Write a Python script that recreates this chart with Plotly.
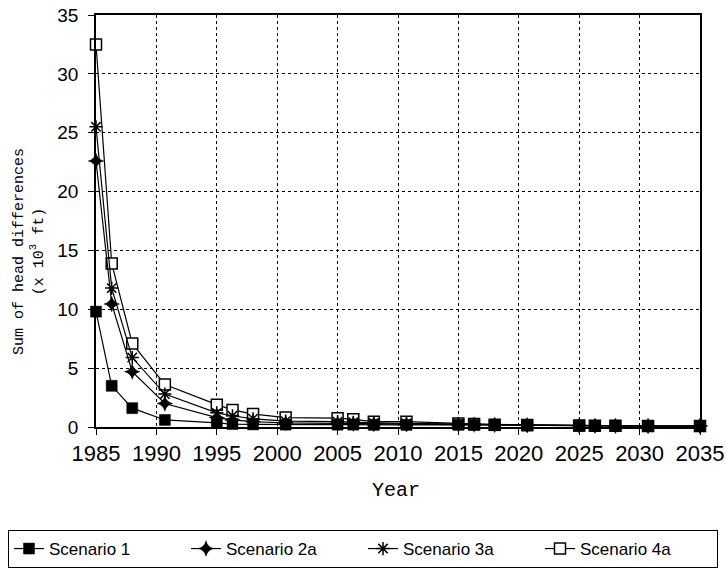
import plotly.graph_objects as go

years = [1985, 1986.3, 1988, 1990.7, 1995, 1996.3, 1998, 2000.7, 2005, 2006.3, 2008,
         2010.7, 2015, 2016.3, 2018, 2020.7, 2025, 2026.3, 2028, 2030.7, 2035]

scenario_1 = [9.8, 3.5, 1.6, 0.6, 0.35, 0.25, 0.22, 0.2, 0.2, 0.2, 0.18, 0.18, 0.18,
              0.17, 0.15, 0.12, 0.1, 0.1, 0.08, 0.08, 0.08]
scenario_2a = [22.6, 10.45, 4.7, 2.0, 0.8, 0.6, 0.45, 0.35, 0.3, 0.28, 0.25, 0.22, 0.2,
               0.2, 0.18, 0.15, 0.12, 0.1, 0.1, 0.08, 0.08]
scenario_3a = [25.5, 11.8, 5.9, 2.8, 1.2, 0.95, 0.7, 0.5, 0.45, 0.4, 0.35, 0.3, 0.25,
               0.22, 0.2, 0.17, 0.12, 0.1, 0.1, 0.08, 0.08]
scenario_4a = [32.5, 13.9, 7.1, 3.6, 1.9, 1.45, 1.1, 0.8, 0.75, 0.65, 0.45, 0.45, 0.3,
               0.25, 0.2, 0.17, 0.12, 0.1, 0.1, 0.08, 0.08]

x_ticks = [1985, 1990, 1995, 2000, 2005, 2010, 2015, 2020, 2025, 2030, 2035]
y_ticks = [0, 5, 10, 15, 20, 25, 30, 35]

W, H = 726, 569

fig = go.Figure()

series = [
    ("Scenario 4a", scenario_4a, dict(symbol="square", size=11, color="white",
                                      line=dict(color="black", width=1.5))),
    ("Scenario 3a", scenario_3a, dict(symbol="asterisk-open", size=11, color="black",
                                      line=dict(color="black", width=1.5))),
    ("Scenario 2a", scenario_2a, dict(symbol="star-diamond", size=11, color="black",
                                      line=dict(color="black", width=0.5))),
    ("Scenario 1", scenario_1, dict(symbol="square", size=11, color="black",
                                    line=dict(color="black", width=0.5))),
]
for name, vals, marker in series:
    fig.add_trace(go.Scatter(
        x=years, y=vals, name=name, mode="lines+markers",
        line=dict(color="black", width=1.2), marker=marker, cliponaxis=False,
    ))

fig.update_layout(
    width=W, height=H,
    margin=dict(l=0, r=0, t=0, b=0, autoexpand=False),
    paper_bgcolor="white", plot_bgcolor="white",
    showlegend=True,
    legend=dict(
        orientation="h", traceorder="reversed",
        x=363 / W, xanchor="center", y=(H - 530) / H, yanchor="top",
        bordercolor="black", borderwidth=1,
        font=dict(family="Liberation Sans", size=17, color="black"),
        entrywidth=132,
    ),
    xaxis=dict(
        domain=[96 / W, 700 / W], automargin=False,
        range=[1985, 2035], tickvals=x_ticks, ticktext=[str(v) for v in x_ticks],
        showline=True, linecolor="black", linewidth=1.5, mirror=True,
        ticks="outside", ticklen=6, tickcolor="black",
        showgrid=True, gridcolor="black", griddash="dot", gridwidth=1.2,
        zeroline=False,
        tickfont=dict(family="Liberation Sans", size=22, color="black"),
    ),
    yaxis=dict(
        domain=[(H - 427) / H, (H - 15) / H], automargin=False,
        range=[0, 35], tickvals=y_ticks,
        showline=True, linecolor="black", linewidth=1.5, mirror=True,
        ticks="outside", ticklen=6, tickcolor="black",
        showgrid=True, gridcolor="black", griddash="dot", gridwidth=1.2,
        zeroline=False, ticklabelstandoff=6,
        tickfont=dict(family="Liberation Sans", size=19, color="black"),
    ),
    annotations=[
        dict(text="Year", xref="paper", yref="paper", x=396 / W, y=(H - 490) / H,
             xanchor="center", yanchor="middle", showarrow=False,
             font=dict(family="Liberation Mono", size=20, color="black")),
        dict(text="Sum of head differences<br>(x 10<sup>3</sup> ft)",
             xref="paper", yref="paper", x=29 / W, y=(H - 252) / H,
             xanchor="center", yanchor="middle", showarrow=False, textangle=-90,
             font=dict(family="Liberation Mono", size=15, color="black")),
    ],
)

fig.write_html("out.html")
